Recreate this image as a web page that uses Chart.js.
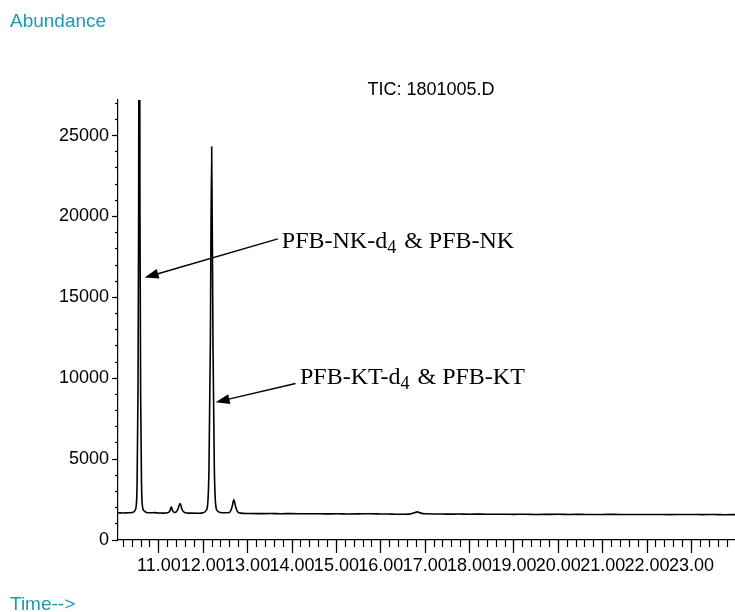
<!DOCTYPE html>
<html>
<head>
<meta charset="utf-8">
<script src="https://cdn.jsdelivr.net/npm/chart.js@4"></script>
<style>
  html, body { margin: 0; padding: 0; background: #fff; }
  #wrap { width: 735px; height: 612px; }
</style>
</head>
<body>
<div id="wrap"><canvas id="tic"></canvas></div>
<script>
// retention time (min) and abundance
const times = [
  10.08, 10.2, 10.3, 10.4, 10.45, 10.49, 10.51, 10.53, 10.545, 10.56, 10.575, 10.59, 10.61, 10.63, 10.67, 10.72,
  10.8, 10.9, 11.0, 11.1, 11.2, 11.25, 11.28, 11.31, 11.36, 11.42, 11.48, 11.52, 11.58, 11.7, 11.9,
  12.0, 12.06, 12.1, 12.13, 12.16, 12.19, 12.22, 12.25, 12.28, 12.32, 12.38, 12.5, 12.6, 12.65, 12.69, 12.73, 12.78, 12.85,
  13.0, 13.25, 13.5, 13.75, 14.0, 14.25, 14.5, 14.75, 15.0, 15.25, 15.5, 15.75, 16.0, 16.25, 16.5, 16.65, 16.75, 16.82, 16.9,
  17.0, 17.25, 17.5, 17.75, 18.0, 18.25, 18.5, 18.75, 19.0, 19.25, 19.5, 19.75, 20.0, 20.25, 20.5, 20.75,
  21.0, 21.25, 21.5, 21.75, 22.0, 22.25, 22.5, 22.75, 23.0, 23.25, 23.5, 23.75, 23.98
];
const abundance = [
  1680, 1670, 1680, 1700, 1780, 2100, 3500, 9000, 20000, 45000, 20000, 9000, 3500, 2100, 1800, 1700,
  1680, 1690, 1670, 1660, 1680, 1800, 2050, 1820, 1700, 1850, 2260, 1900, 1700, 1660, 1650,
  1680, 1800, 2200, 4500, 12000, 24300, 12000, 4500, 2200, 1800, 1700, 1680, 1720, 2050, 2490, 2050, 1720, 1660,
  1640, 1630, 1635, 1625, 1630, 1620, 1625, 1615, 1620, 1610, 1615, 1625, 1610, 1600, 1590, 1600, 1680, 1740, 1660,
  1620, 1610, 1600, 1605, 1595, 1600, 1590, 1595, 1585, 1590, 1580, 1585, 1590, 1580, 1585, 1575,
  1580, 1585, 1575, 1580, 1575, 1580, 1570, 1575, 1580, 1570, 1575, 1565, 1570
];

const xRange = [10.08, 23.98];
const yRange = [0, 27200];
const xLabels = [11, 12, 13, 14, 15, 16, 17, 18, 19, 20, 21, 22, 23];
const yLabels = [0, 5000, 10000, 15000, 20000, 25000];
const xMinorStep = 0.2;
const yMinorStep = 1000;

// labels with arrows, given in data units
const notes = [
  { main: 'PFB-NK-d', sub: '4', rest: ' & PFB-NK', text: [13.77, 18080], tail: [13.68, 18615], tip: [10.68, 16220] },
  { main: 'PFB-KT-d', sub: '4', rest: ' & PFB-KT', text: [14.18, 9672], tail: [14.08, 9672], tip: [12.28, 8517] }
];

const teal = '#1a9cb0';

function minorTicks(lo, hi, step) {
  const out = [];
  for (let k = Math.ceil(lo / step); k * step <= hi; k++) out.push({ value: Math.round(k * step * 1000) / 1000 });
  return out;
}

const extras = {
  id: 'extras',
  afterDraw(chart) {
    const ctx = chart.ctx;
    const xs = chart.scales.x, ys = chart.scales.y;
    ctx.save();
    ctx.fillStyle = teal;
    ctx.font = '19px "Liberation Sans", Arial, sans-serif';
    ctx.textBaseline = 'alphabetic';
    ctx.textAlign = 'left';
    ctx.fillText('Abundance', 10, 27);
    ctx.fillText('Time-->', 10, 610);

    ctx.fillStyle = '#000';
    ctx.font = '18px "Liberation Sans", Arial, sans-serif';
    ctx.textAlign = 'center';
    ctx.fillText('TIC: 1801005.D', 431, 95);

    ctx.textAlign = 'left';
    notes.forEach(n => {
      const tx = xs.getPixelForValue(n.text[0]), ty = ys.getPixelForValue(n.text[1]);
      ctx.font = '24px "Liberation Serif", "Times New Roman", serif';
      ctx.fillText(n.main, tx, ty);
      let w = ctx.measureText(n.main).width;
      ctx.font = '18px "Liberation Serif", "Times New Roman", serif';
      ctx.fillText(n.sub, tx + w, ty + 5);
      w += ctx.measureText(n.sub).width + 2;
      ctx.font = '24px "Liberation Serif", "Times New Roman", serif';
      ctx.fillText(n.rest, tx + w, ty);

      const x1 = xs.getPixelForValue(n.tail[0]), y1 = ys.getPixelForValue(n.tail[1]);
      const x2 = xs.getPixelForValue(n.tip[0]), y2 = ys.getPixelForValue(n.tip[1]);
      const ang = Math.atan2(y2 - y1, x2 - x1);
      const len = 14, half = 5;
      ctx.strokeStyle = '#000';
      ctx.lineWidth = 1.4;
      ctx.beginPath();
      ctx.moveTo(x1, y1);
      ctx.lineTo(x2 - Math.cos(ang) * len * 0.8, y2 - Math.sin(ang) * len * 0.8);
      ctx.stroke();
      ctx.beginPath();
      ctx.moveTo(x2, y2);
      ctx.lineTo(x2 - Math.cos(ang) * len + Math.sin(ang) * half, y2 - Math.sin(ang) * len - Math.cos(ang) * half);
      ctx.lineTo(x2 - Math.cos(ang) * len - Math.sin(ang) * half, y2 - Math.sin(ang) * len + Math.cos(ang) * half);
      ctx.closePath();
      ctx.fill();
    });
    ctx.restore();
  }
};

const tickFont = { family: '"Liberation Sans", Arial, sans-serif', size: 18 };

new Chart(document.getElementById('tic'), {
  type: 'line',
  data: {
    datasets: [{
      data: times.map((t, i) => ({ x: t, y: abundance[i] })),
      borderColor: '#000',
      borderWidth: 1.6,
      pointRadius: 0,
      fill: false,
      cubicInterpolationMode: 'monotone'
    }]
  },
  options: {
    responsive: true,
    maintainAspectRatio: false,
    animation: false,
    layout: { padding: { top: 100, left: 0, right: 0, bottom: 0 } },
    plugins: { legend: { display: false }, tooltip: { enabled: false } },
    scales: {
      x: {
        type: 'linear', position: 'bottom', weight: 1,
        min: xRange[0], max: xRange[1],
        grid: { drawOnChartArea: false, tickLength: 13, color: '#000', tickWidth: 1.2 },
        border: { display: true, color: '#000', width: 1.2 },
        ticks: {
          autoSkip: false, maxRotation: 0,
          padding: 2, color: '#000', font: tickFont,
          callback: v => v.toFixed(2)
        },
        afterBuildTicks: s => { s.ticks = xLabels.map(v => ({ value: v })); },
        afterFit: s => { s.height = 72; }
      },
      xMinor: {
        type: 'linear', position: 'bottom', weight: 0,
        min: xRange[0], max: xRange[1],
        grid: { drawOnChartArea: false, tickLength: 7, color: '#000', tickWidth: 1.2 },
        border: { display: false },
        ticks: { display: false },
        afterBuildTicks: s => { s.ticks = minorTicks(xRange[0], xRange[1], xMinorStep); },
        afterFit: s => { s.height = 0; }
      },
      y: {
        type: 'linear', position: 'left', weight: 1,
        min: yRange[0], max: yRange[1],
        grid: { drawOnChartArea: false, tickLength: 6, color: '#000', tickWidth: 1.2 },
        border: { display: true, color: '#000', width: 1.2 },
        ticks: {
          padding: 3, color: '#000', font: tickFont,
          callback: v => String(v)
        },
        afterBuildTicks: s => { s.ticks = yLabels.map(v => ({ value: v })); },
        afterFit: s => { s.width = 118; }
      },
      yMinor: {
        type: 'linear', position: 'left', weight: 0,
        min: yRange[0], max: yRange[1],
        grid: { drawOnChartArea: false, tickLength: 3, color: '#000', tickWidth: 1.2 },
        border: { display: false },
        ticks: { display: false },
        afterBuildTicks: s => { s.ticks = minorTicks(yRange[0], yRange[1], yMinorStep); },
        afterFit: s => { s.width = 0; }
      }
    }
  },
  plugins: [extras]
});
</script>
</body>
</html>
